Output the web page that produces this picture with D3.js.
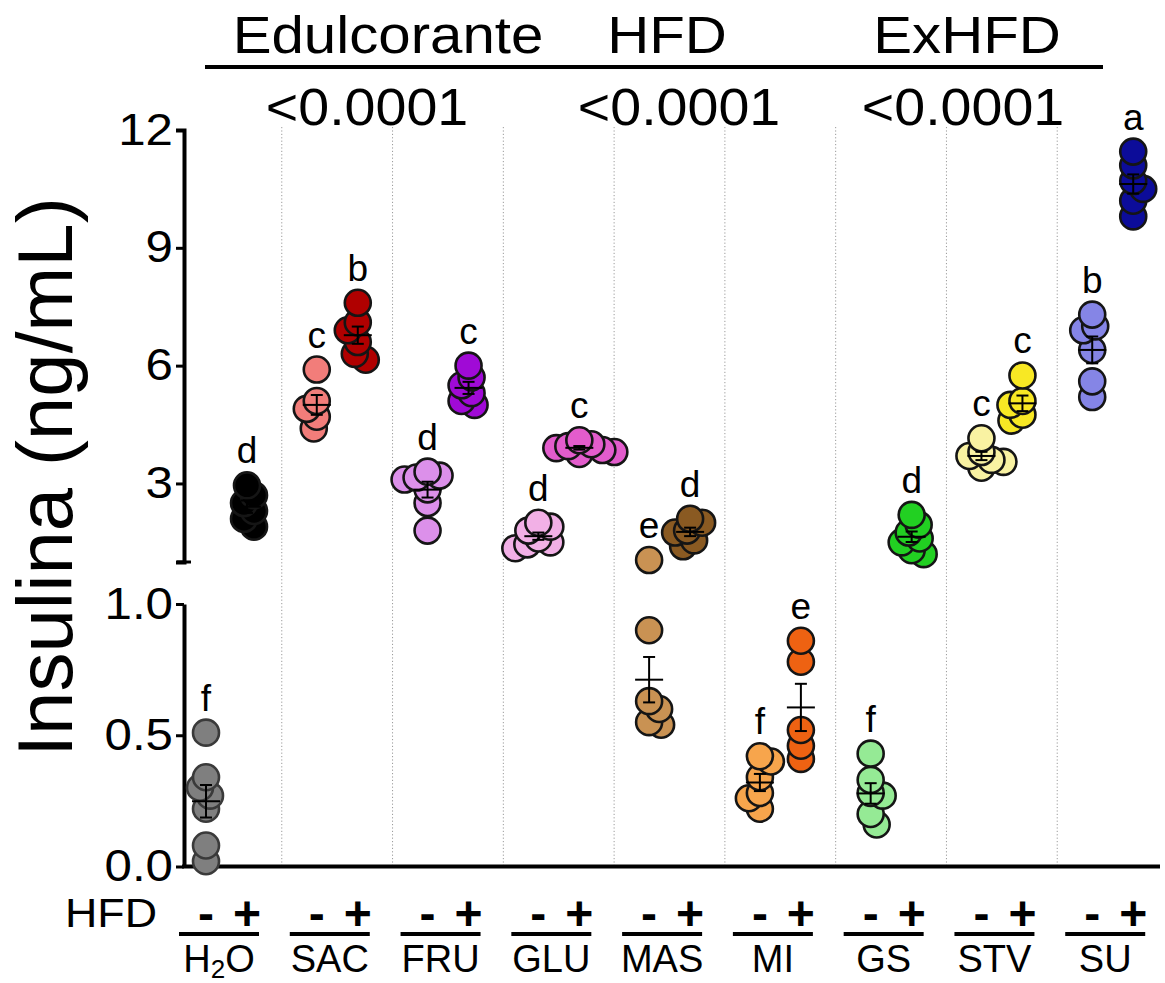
<!DOCTYPE html>
<html>
<head>
<meta charset="utf-8">
<script src="https://cdn.jsdelivr.net/npm/d3@7"></script>
<style>
  html, body { margin: 0; padding: 0; background: #fff; }
  svg { display: block; }
  text { font-family: "Liberation Sans", Arial, Helvetica, sans-serif; fill: #000; }
</style>
</head>
<body>
<svg id="chart" width="1165" height="983"></svg>
<script>
// ---------------- DATA ----------------
const groups = ["H2O", "SAC", "FRU", "GLU", "MAS", "MI", "GS", "STV", "SU"];
const hfdLevels = ["-", "+"];
const factorLabels = ["Edulcorante", "HFD", "ExHFD"];
const factorPValues = ["<0.0001", "<0.0001", "<0.0001"];
const upperTicks = [3, 6, 9, 12];
const lowerTicks = [0.0, 0.5, 1.0];

// insulin (ng/mL), HFD "-"
const insulinMinus = [
  [0.51, 0.34, 0.30, 0.27, 0.22, 0.08, 0.02],   // H2O
  [5.9, 5.1, 4.9, 4.7, 4.4],                     // SAC
  [3.3, 3.2, 3.15, 3.1, 2.85, 2.5, 1.8],         // FRU
  [2.0, 1.9, 1.8, 1.6, 1.5, 1.45, 1.35],         // GLU
  [1.05, 0.90, 0.63, 0.60, 0.55, 0.54],          // MAS
  [0.42, 0.40, 0.34, 0.28, 0.26, 0.22],          // MI
  [0.43, 0.33, 0.28, 0.27, 0.20, 0.16],          // GS
  [4.15, 3.8, 3.7, 3.6, 3.55, 3.4],              // STV
  [7.3, 7.0, 6.9, 6.4, 5.6, 5.2]                 // SU
];
// insulin (ng/mL), HFD "+"
const insulinPlus = [
  [2.95, 2.7, 2.5, 2.3, 2.1, 1.9],               // H2O
  [7.6, 7.1, 6.9, 6.6, 6.3, 6.15],               // SAC
  [6.0, 5.7, 5.5, 5.3, 5.1, 5.0],                // FRU
  [4.1, 4.0, 3.95, 3.9, 3.85, 3.8, 3.75],        // GLU
  [2.1, 2.0, 1.8, 1.75, 1.55, 1.4],              // MAS
  [0.86, 0.78, 0.52, 0.46, 0.41],                // MI
  [2.2, 1.95, 1.75, 1.6, 1.5, 1.3, 1.2],         // GS
  [5.75, 5.1, 5.0, 4.75, 4.6],                   // STV
  [11.45, 11.1, 10.7, 10.5, 10.2, 9.8]           // SU
];
const lettersMinus = ["f", "c", "d", "d", "e", "f", "f", "c", "b"];
const lettersPlus  = ["d", "b", "c", "c", "d", "e", "d", "c", "a"];

const colorsMinus = ["#7f7f7f", "#f27d7a", "#dc90ea", "#f2b0e6", "#c99253", "#f7a54c", "#95ea95", "#f9f2a2", "#8585e6"];
const colorsPlus  = ["#000000", "#b00000", "#a00ad6", "#e35ccc", "#8a5a22", "#ee6212", "#22d022", "#f8e824", "#0c0c99"];

// ---------------- LAYOUT ----------------
const svg = d3.select("#chart");
svg.append("rect").attr("width", 1165).attr("height", 983).attr("fill", "#fff");

const axisX = 184;
const yUpper = d3.scaleLinear().domain([1, 12]).range([562, 130]);
const yLower = d3.scaleLinear().domain([0, 1]).range([866.5, 604]);
const yPix = v => v >= 1 ? yUpper(v) : yLower(v);

const xGroup = d3.scaleBand().domain(groups).range([171, 1168]);
const xInner = d3.scalePoint().domain(hfdLevels).range([35, 76]);
const colX = (g, h) => xGroup(g) + xInner(h);

function stretchText(parent, x, y, str, size, sx, opts = {}) {
  const t = parent.append("text")
    .attr("transform", `translate(${x},${y}) scale(${sx},1)`)
    .attr("font-size", size)
    .attr("text-anchor", opts.anchor || "middle")
    .text(str);
  if (opts.weight) t.attr("font-weight", opts.weight);
  return t;
}

// dotted dividers between groups
svg.append("g").selectAll("line")
  .data(groups.slice(1))
  .join("line")
  .attr("x1", d => xGroup(d)).attr("x2", d => xGroup(d))
  .attr("y1", 127).attr("y2", 866)
  .attr("stroke", "#9a9a9a").attr("stroke-width", 1)
  .attr("stroke-dasharray", "1.2,2.2");

// ---------------- AXES ----------------
const upAxis = d3.axisLeft(yUpper).tickValues(upperTicks).tickSize(8).tickSizeOuter(8).tickPadding(3).tickFormat(d3.format("d"));
const loAxis = d3.axisLeft(yLower).tickValues(lowerTicks).tickSize(8).tickSizeOuter(0).tickPadding(3).tickFormat(d3.format(".1f"));

[upAxis, loAxis].forEach(ax => {
  const g = svg.append("g").attr("transform", `translate(${axisX},0)`).call(ax);
  g.select(".domain").attr("stroke", "#000").attr("stroke-width", 4);
  g.selectAll(".tick line").attr("stroke", "#000").attr("stroke-width", 3);
  g.selectAll(".tick text")
    .attr("font-size", 44)
    .attr("fill", "#000")
    .attr("font-family", '"Liberation Sans", Arial, sans-serif')
    .attr("x", -11 / 1.12)
    .attr("transform", "scale(1.12,1)");
});
// end cap of the upper (broken) segment
svg.append("line")
  .attr("x1", axisX - 7).attr("x2", axisX + 7)
  .attr("y1", yUpper(1)).attr("y2", yUpper(1))
  .attr("stroke", "#000").attr("stroke-width", 3);

// x axis baseline
svg.append("line")
  .attr("x1", axisX - 2).attr("x2", 1160)
  .attr("y1", yLower(0)).attr("y2", yLower(0))
  .attr("stroke", "#000").attr("stroke-width", 4);

// y title
svg.append("text")
  .attr("transform", "translate(72,477) rotate(-90)")
  .attr("text-anchor", "middle")
  .attr("font-size", 78)
  .text("Insulina (ng/mL)");

// ---------------- HEADER ----------------
const headerX = [388, 667, 967];
const pX = [367, 679, 963];
svg.append("line").attr("x1", 205).attr("x2", 1103).attr("y1", 67).attr("y2", 67)
  .attr("stroke", "#000").attr("stroke-width", 4);
factorLabels.forEach((lab, i) => stretchText(svg, headerX[i], 53, lab, 52, 1.12));
factorPValues.forEach((p, i) => stretchText(svg, pX[i], 125, p, 51, 1.09));

// ---------------- POINTS ----------------
function swarm(ys, minDist) {
  const order = ys.map((y, i) => ({ y, i })).sort((a, b) => a.y - b.y);
  const placed = [];
  const offs = new Array(ys.length);
  order.forEach((p, n) => {
    let best = null;
    for (let k = 0; k < 80 && best === null; k++) {
      const cands = k === 0 ? [0] : (n % 2 ? [k, -k] : [-k, k]);
      for (const dx of cands) {
        if (placed.every(q => Math.hypot(q.x - dx, q.y - p.y) >= minDist)) { best = dx; break; }
      }
    }
    placed.push({ x: best, y: p.y });
    offs[p.i] = best;
  });
  return offs;
}

const series = [];
groups.forEach((g, gi) => {
  series.push({ group: g, hfd: "-", values: insulinMinus[gi], color: colorsMinus[gi], letter: lettersMinus[gi] });
  series.push({ group: g, hfd: "+", values: insulinPlus[gi], color: colorsPlus[gi], letter: lettersPlus[gi] });
});

const R = 13;
const ptLayer = svg.append("g");
const errLayer = svg.append("g");
const letLayer = svg.append("g");

series.forEach(s => {
  const cx = colX(s.group, s.hfd);
  const ys = s.values.map(yPix);
  const offs = swarm(ys, 12);
  const pts = s.values.map((v, i) => ({ v, x: cx + offs[i], y: ys[i] }));
  pts.sort((a, b) => b.y - a.y);
  ptLayer.append("g").selectAll("circle")
    .data(pts)
    .join("circle")
    .attr("cx", d => d.x).attr("cy", d => d.y).attr("r", R)
    .attr("fill", s.color)
    .attr("stroke", s.hfd === "-" && s.group === "H2O" ? "#3a3a3a" : "#151515")
    .attr("stroke-width", 2.6);

  // mean ± SEM
  const m = d3.mean(s.values);
  const sem = d3.deviation(s.values) / Math.sqrt(s.values.length);
  const eg = errLayer.append("g").attr("stroke", "#000").attr("stroke-width", 2);
  eg.append("line").attr("x1", cx - 14).attr("x2", cx + 14).attr("y1", yPix(m)).attr("y2", yPix(m));
  eg.append("line").attr("x1", cx).attr("x2", cx).attr("y1", yPix(m - sem)).attr("y2", yPix(m + sem));
  [m - sem, m + sem].forEach(v => eg.append("line").attr("x1", cx - 6).attr("x2", cx + 6).attr("y1", yPix(v)).attr("y2", yPix(v)));

  // significance letter
  const top = d3.min(ys);
  letLayer.append("text")
    .attr("x", cx).attr("y", top - 22)
    .attr("text-anchor", "middle")
    .attr("font-size", 37)
    .text(s.letter);
});

// ---------------- BOTTOM LABELS ----------------
const bottom = svg.append("g");
stretchText(bottom, 157, 927, "HFD", 40, 1.12, { anchor: "end" });
groups.forEach(g => {
  const xm = colX(g, "-"), xp = colX(g, "+");
  bottom.append("text").attr("x", xm).attr("y", 930).attr("text-anchor", "middle")
    .attr("font-size", 48).attr("font-weight", "bold").text("-");
  bottom.append("text").attr("x", xp).attr("y", 930).attr("text-anchor", "middle")
    .attr("font-size", 48).attr("font-weight", "bold").text("+");
  bottom.append("line").attr("x1", xm - 27).attr("x2", xp + 12).attr("y1", 934).attr("y2", 934)
    .attr("stroke", "#000").attr("stroke-width", 4);
  const lab = bottom.append("text")
    .attr("x", (xm - 27 + xp + 12) / 2).attr("y", 972)
    .attr("text-anchor", "middle").attr("font-size", 38);
  if (g === "H2O") {
    lab.append("tspan").text("H");
    lab.append("tspan").attr("font-size", 26).attr("dy", 6).text("2");
    lab.append("tspan").attr("dy", -6).text("O");
  } else {
    lab.text(g);
  }
});
</script>
</body>
</html>
